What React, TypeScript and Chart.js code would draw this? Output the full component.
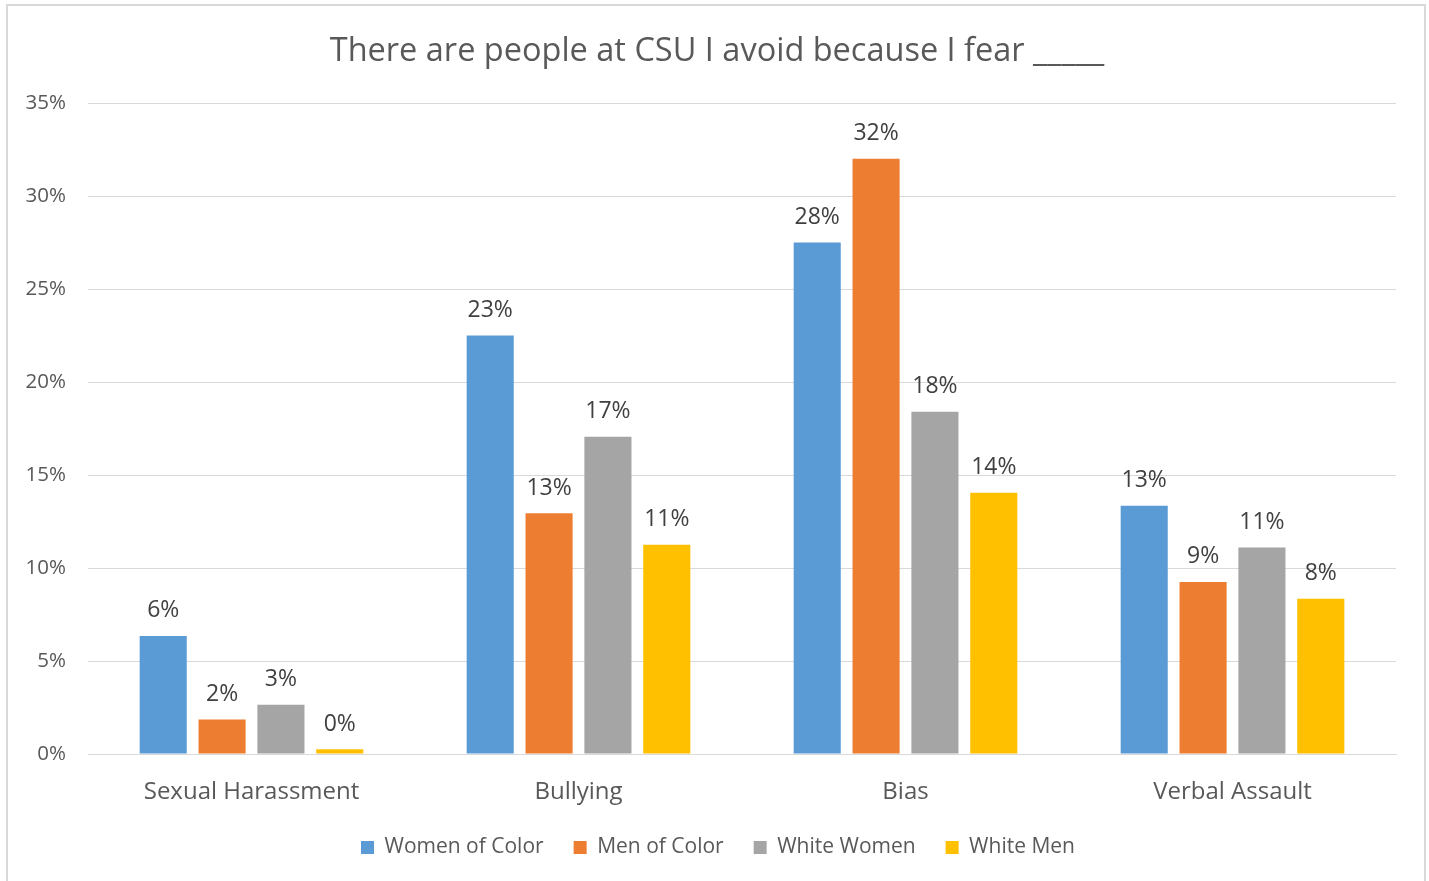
import React, { useEffect, useRef } from "react";
import { Chart, registerables } from "chart.js";

Chart.register(...registerables);

const categories = ["Sexual Harassment", "Bullying", "Bias", "Verbal Assault"];
const seriesNames = ["Women of Color", "Men of Color", "White Women", "White Men"];
const womenOfColor = [6.35, 22.5, 27.5, 13.35];
const menOfColor = [1.85, 12.95, 32.0, 9.25];
const whiteWomen = [2.65, 17.05, 18.4, 11.1];
const whiteMen = [0.25, 11.25, 14.05, 8.35];
const yTicks = [0, 5, 10, 15, 20, 25, 30, 35];
const colors = ["#5B9BD5", "#ED7D31", "#A5A5A5", "#FFC000"];
const titleText = "There are people at CSU I avoid because I fear _____";

const FONT = "'Open Sans', 'Noto Sans', sans-serif";

const titlePlugin = {
  id: "customTitle",
  afterDraw(chart: any) {
    const ctx = chart.ctx;
    ctx.save();
    ctx.fillStyle = "#595959";
    ctx.font = `32.5px ${FONT}`;
    ctx.textAlign = "center";
    ctx.textBaseline = "alphabetic";
    ctx.fillText(titleText, 717, 61);
    ctx.restore();
  },
};

const dataLabelPlugin = {
  id: "dataLabels",
  afterDatasetsDraw(chart: any) {
    const ctx = chart.ctx;
    ctx.save();
    ctx.fillStyle = "#404040";
    ctx.font = `23px ${FONT}`;
    ctx.textAlign = "center";
    ctx.textBaseline = "middle";
    chart.data.datasets.forEach((ds: any, i: number) => {
      const meta = chart.getDatasetMeta(i);
      meta.data.forEach((bar: any, j: number) => {
        const v = ds.data[j];
        ctx.fillText(Math.round(v) + "%", bar.x, bar.y - 25);
      });
    });
    ctx.restore();
  },
};

export default function App() {
  const ref = useRef<HTMLCanvasElement | null>(null);
  useEffect(() => {
    if (!ref.current) return;
    const series = [womenOfColor, menOfColor, whiteWomen, whiteMen];
    const chart = new Chart(ref.current, {
      type: "bar",
      data: {
        labels: categories,
        datasets: series.map((d, i) => ({
          label: seriesNames[i],
          data: d,
          backgroundColor: colors[i],
          borderWidth: 0,
          categoryPercentage: 0.72,
          barPercentage: 0.8,
        })),
      },
      options: {
        animation: false,
        responsive: false,
        maintainAspectRatio: false,
        layout: { padding: { left: 0, right: 0, top: 103, bottom: 13 } },
        plugins: {
          title: { display: false },
          legend: {
            display: true,
            position: "bottom",
            labels: {
              color: "#595959",
              font: { family: FONT, size: 21 },
              boxWidth: 13,
              boxHeight: 13,
              padding: 30,
            },
          },
          tooltip: { enabled: false },
        },
        scales: {
          x: {
            grid: { display: false, drawTicks: false },
            border: { display: true, color: "#D9D9D9", width: 1 },
            ticks: {
              color: "#595959",
              font: { family: FONT, size: 24 },
              padding: 24,
            },
            afterFit: (s: any) => {
              s.height = 53;
            },
          },
          y: {
            min: 0,
            max: 35,
            afterBuildTicks: (s: any) => {
              s.ticks = yTicks.map((v) => ({ value: v }));
            },
            grid: { color: "#D9D9D9", lineWidth: 1, drawTicks: false },
            border: { display: false },
            ticks: {
              color: "#595959",
              font: { family: FONT, size: 20.5 },
              padding: 22,
              callback: (v: any) => v + "%",
            },
            afterFit: (s: any) => {
              s.width = 88;
            },
          },
          yRight: {
            position: "right",
            min: 0,
            max: 35,
            grid: { display: false, drawTicks: false },
            border: { display: false },
            ticks: { display: false },
            afterFit: (s: any) => {
              s.width = 40;
            },
          },
        },
      },
      plugins: [dataLabelPlugin, titlePlugin],
    });
    return () => chart.destroy();
  }, []);
  return (
    <div
      style={{
        position: "fixed",
        left: 0,
        top: 0,
        width: 1429,
        height: 881,
        background: "#fff",
        overflow: "hidden",
      }}
    >
      <div
        style={{
          position: "absolute",
          left: 6,
          top: 4,
          width: 1420,
          height: 900,
          border: "2px solid #D9D9D9",
          boxSizing: "border-box",
        }}
      />
      <canvas ref={ref} width={1436} height={881} style={{ position: "absolute", left: 0, top: 0 }} />
    </div>
  );
}
